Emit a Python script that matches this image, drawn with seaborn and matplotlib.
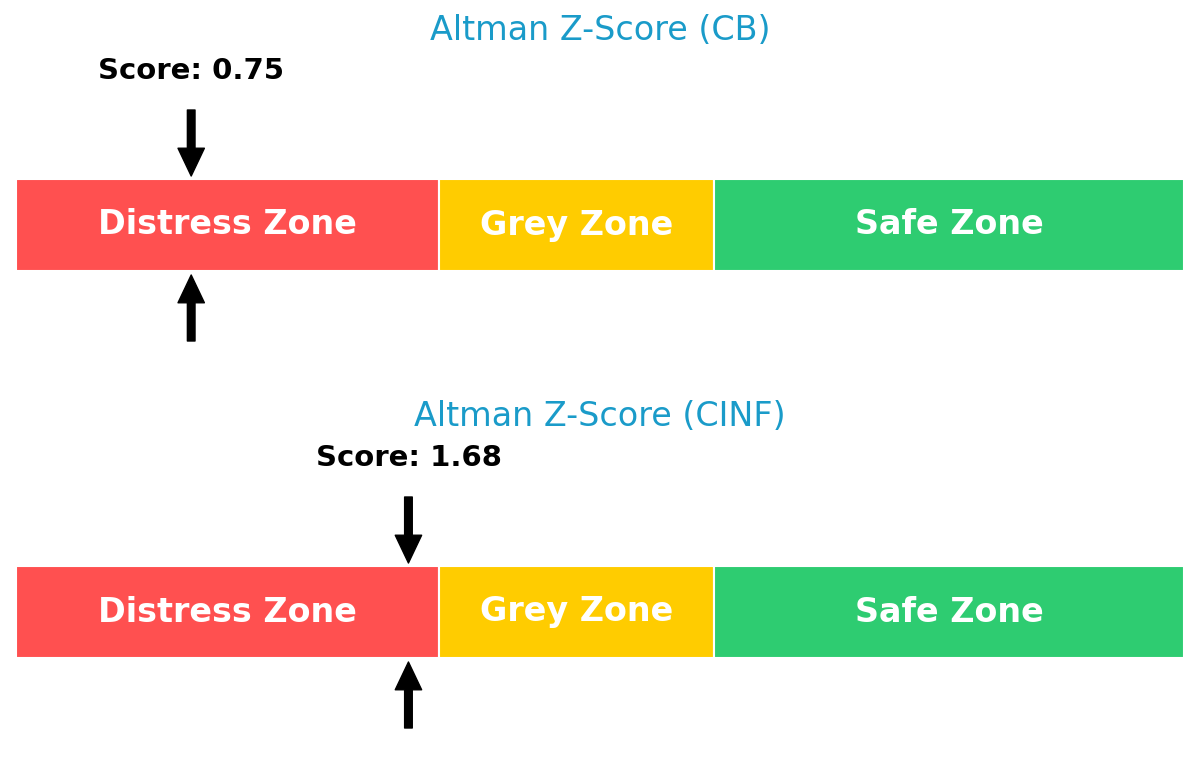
import seaborn as sns
import matplotlib.pyplot as plt

sns.set_theme(style="white")
plt.rcParams['font.family'] = ['DejaVu Sans']

# zone data
zone_names = ["Distress Zone", "Grey Zone", "Safe Zone"]
zone_starts = [0.0, 1.81, 2.99]
zone_ends = [1.81, 2.99, 5.0]
zone_colors = ["#ff5050", "#ffcc00", "#2ecc71"]

# companies and scores
tickers = ["CB", "CINF"]
scores = [0.75, 1.68]

fig = plt.figure(figsize=(12, 7.74), dpi=100)

arrow_kw = dict(facecolor="black", edgecolor="black", width=5.5,
                headwidth=19, headlength=20, shrink=0)

for i, (tk, sc) in enumerate(zip(tickers, scores)):
    # each panel takes half of the figure (387 px), y in pixels from the top
    ax = fig.add_axes([16 / 1200, 0.5 - 0.5 * i, 1168 / 1200, 0.5])
    ax.set_xlim(0, 5)
    ax.set_ylim(387, 0)
    ax.axis("off")

    bar_top, bar_bot = 179, 271
    for name, s, e, c in zip(zone_names, zone_starts, zone_ends, zone_colors):
        ax.barh((bar_top + bar_bot) / 2, e - s, left=s, height=bar_bot - bar_top,
                color=c, edgecolor="white", linewidth=1.5)
        ax.text((s + e) / 2, (bar_top + bar_bot) / 2, name, ha="center", va="center",
                color="white", fontsize=24, fontweight="bold")

    ax.annotate("", xy=(sc, 176), xytext=(sc, 110), arrowprops=arrow_kw)
    ax.annotate("", xy=(sc, 275), xytext=(sc, 341), arrowprops=arrow_kw)
    ax.text(sc, 71, f"Score: {sc:.2f}", ha="center", va="center",
            fontsize=21, fontweight="bold", color="black")
    ax.text(2.5, 30, f"Altman Z-Score ({tk})", ha="center", va="center",
            fontsize=24, color="#1a9bc9")

fig.savefig("out.png", dpi=100)
